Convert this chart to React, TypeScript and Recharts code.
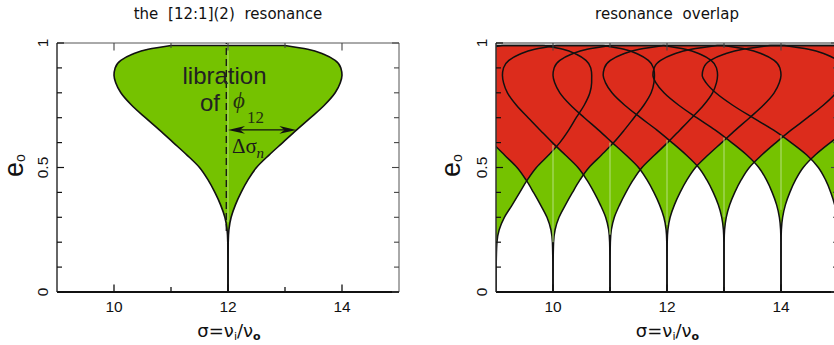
import React from "react";
import { ComposedChart, Area, Line, XAxis, YAxis, ReferenceLine } from "recharts";

// Eccentricity levels at which the libration-zone half-widths are sampled
const E_LEVELS = [0, 0.12, 0.2, 0.25, 0.3, 0.35, 0.4, 0.45, 0.5, 0.55, 0.6, 0.65, 0.7, 0.75, 0.8, 0.84, 0.87, 0.9, 0.93, 0.955, 0.975, 0.99];

// Half-width Δσ_n of the [n:1](2) libration zone at each level of E_LEVELS
const HALF_WIDTH_9 = [0, 0.0046, 0.0168, 0.056, 0.147, 0.285, 0.417, 0.55, 0.709, 0.924, 1.12, 1.275, 1.407, 1.547, 1.647, 1.678, 1.679, 1.662, 1.578, 1.411, 1.175, 0.84];
const HALF_WIDTH_10 = [0, 0.0028, 0.0104, 0.037, 0.106, 0.219, 0.342, 0.473, 0.631, 0.851, 1.064, 1.249, 1.421, 1.593, 1.722, 1.77, 1.78, 1.762, 1.673, 1.495, 1.246, 0.89];
const HALF_WIDTH_11 = [0, 0.0017, 0.0065, 0.024, 0.076, 0.169, 0.28, 0.407, 0.562, 0.783, 1.01, 1.224, 1.436, 1.641, 1.799, 1.867, 1.887, 1.868, 1.774, 1.585, 1.321, 0.943];
const HALF_WIDTH_12 = [0, 0.001, 0.004, 0.016, 0.055, 0.13, 0.23, 0.35, 0.5, 0.72, 0.96, 1.2, 1.45, 1.69, 1.88, 1.97, 2.0, 1.98, 1.88, 1.68, 1.4, 1.0];
const HALF_WIDTH_13 = [0, 0.0006, 0.0025, 0.0106, 0.04, 0.1, 0.189, 0.301, 0.445, 0.662, 0.912, 1.176, 1.465, 1.741, 1.965, 2.078, 2.12, 2.099, 1.993, 1.781, 1.484, 1.06];
const HALF_WIDTH_14 = [0, 0.0004, 0.0015, 0.007, 0.0285, 0.077, 0.155, 0.255, 0.39, 0.6, 0.866, 1.152, 1.479, 1.793, 2.053, 2.193, 2.247, 2.225, 2.112, 1.888, 1.573, 1.124];
const HALF_WIDTH_15 = [0, 0.0002, 0.001, 0.0046, 0.0205, 0.059, 0.127, 0.218, 0.345, 0.548, 0.823, 1.129, 1.494, 1.847, 2.145, 2.313, 2.382, 2.358, 2.239, 2.001, 1.667, 1.191];

const SINGLE_ORDER = 12;
const OVERLAP_ORDERS = [9, 10, 11, 12, 13, 14, 15];
const OVERLAP_WIDTHS = [HALF_WIDTH_9, HALF_WIDTH_10, HALF_WIDTH_11, HALF_WIDTH_12, HALF_WIDTH_13, HALF_WIDTH_14, HALF_WIDTH_15];

// Δσ_n arrow: eccentricity level and the E_LEVELS index it uses
const ARROW_E = 0.651;
const ARROW_LEVEL_INDEX = 11;

// light centre seams inside the single-resonance zones
const SEAM_ORDERS = [10, 11, 12, 13, 14];
const SEAM_FROM = [0.2, 0.23, 0.27, 0.3, 0.33];
const SEAM_TO = [0.59, 0.6, 0.61, 0.62, 0.63];

const X_DOMAIN = [9, 15];
const X_TICKS = [10, 11, 12, 13, 14];
const X_LABELED = [10, 12, 14];
const Y_TICKS = [0, 0.1, 0.2, 0.3, 0.4, 0.5, 0.6, 0.7, 0.8, 0.9, 1];
const Y_LABELED = [0, 0.5, 1];

const GREEN = "#75c200";
const INK = "#111";
const SEAM = "#b6e07e";

const PLOT_W = 342;
const PLOT_H = 249;
const SANS = "'Liberation Sans', Arial, sans-serif";
const SERIF = "'Liberation Serif', 'DejaVu Serif', serif";

function zoneRows(order: number, widths: number[]) {
  return E_LEVELS.map((e, i) => ({ e, band: [order - widths[i], order + widths[i]] }));
}

function capRows(order: number, widths: number[]) {
  const last = E_LEVELS.length - 1;
  return [
    { e: E_LEVELS[last], s: order - widths[last] },
    { e: E_LEVELS[last], s: order + widths[last] },
  ];
}

function XTick(props: any) {
  const { x, y, payload } = props;
  const v = payload.value;
  const major = X_LABELED.includes(v);
  const len = major ? 7.5 : 5;
  return (
    <g>
      <line x1={x} y1={y} x2={x} y2={y - len} stroke={INK} strokeWidth={1.3} />
      <line x1={x} y1={y - PLOT_H} x2={x} y2={y - PLOT_H + len} stroke="#444" strokeWidth={1.1} />
      {major && (
        <text x={x} y={y + 19.7} textAnchor="middle" fontSize={15.5} fontFamily={SANS} fill={INK}>
          {v}
        </text>
      )}
    </g>
  );
}

function YTick(props: any) {
  const { x, y, payload } = props;
  const v = payload.value;
  const major = Y_LABELED.includes(v);
  const len = major ? 7 : 5;
  const lx = x - 14.5;
  return (
    <g>
      <line x1={x} y1={y} x2={x + len} y2={y} stroke={INK} strokeWidth={1.2} />
      <line x1={x + PLOT_W} y1={y} x2={x + PLOT_W - len} y2={y} stroke="#444" strokeWidth={1.1} />
      {major && (
        <text
          x={lx}
          y={y}
          transform={`rotate(-90 ${lx} ${y})`}
          textAnchor="middle"
          dominantBaseline="central"
          fontSize={15.5}
          fontFamily={SANS}
          fill={INK}
        >
          {v}
        </text>
      )}
    </g>
  );
}

function ArrowShape(props: any) {
  const { x1, y1, x2 } = props;
  const y = y1;
  const head = 17;
  const wing = 3.8;
  const notch = 12;
  return (
    <g>
      <line x1={x1 + notch} y1={y} x2={x2 - notch} y2={y} stroke={INK} strokeWidth={1.4} />
      <polygon points={`${x1},${y} ${x1 + head},${y - wing} ${x1 + notch},${y} ${x1 + head},${y + wing}`} fill={INK} />
      <polygon points={`${x2},${y} ${x2 - head},${y - wing} ${x2 - notch},${y} ${x2 - head},${y + wing}`} fill={INK} />
    </g>
  );
}

function axes(visible: boolean, yWidth: number) {
  return [
    <XAxis
      key="x"
      type="number"
      domain={X_DOMAIN}
      ticks={X_TICKS}
      interval={0}
      allowDataOverflow
      height={53}
      tickSize={0}
      tickMargin={0}
      tickLine={false}
      axisLine={visible ? { stroke: INK, strokeWidth: 1.8 } : false}
      tick={visible ? XTick : false}
    />,
    <YAxis
      key="y"
      type="number"
      dataKey="e"
      domain={[0, 1]}
      ticks={Y_TICKS}
      interval={0}
      reversed
      allowDataOverflow
      width={yWidth}
      tickSize={0}
      tickMargin={0}
      tickLine={false}
      axisLine={visible ? { stroke: "#333", strokeWidth: 1.5 } : false}
      tick={visible ? YTick : false}
    />,
  ];
}

function SingleResonance() {
  const arrowHalf = HALF_WIDTH_12[ARROW_LEVEL_INDEX];
  return (
    <ComposedChart layout="vertical" width={420} height={345} margin={{ top: 43, right: 21, bottom: 0, left: 0 }}>
      {axes(true, 57)}
      <ReferenceLine y={1} stroke="#555" strokeWidth={1} />
      <ReferenceLine x={15} stroke="#555" strokeWidth={1} />
      <Area
        data={zoneRows(SINGLE_ORDER, HALF_WIDTH_12)}
        dataKey="band"
        type="monotone"
        fill={GREEN}
        fillOpacity={1}
        stroke={INK}
        strokeWidth={1.6}
        dot={false}
        activeDot={false}
        isAnimationActive={false}
      />
      <Line
        data={capRows(SINGLE_ORDER, HALF_WIDTH_12)}
        dataKey="s"
        stroke={INK}
        strokeWidth={1.6}
        dot={false}
        activeDot={false}
        isAnimationActive={false}
      />
      <ReferenceLine segment={[{ x: SINGLE_ORDER, y: 0.28 }, { x: SINGLE_ORDER, y: 0.985 }]} stroke={SEAM} strokeWidth={1} />
      <ReferenceLine
        segment={[{ x: SINGLE_ORDER - 0.03, y: 0.245 }, { x: SINGLE_ORDER - 0.03, y: 1 }]}
        stroke={INK}
        strokeWidth={1.3}
        strokeDasharray="7 4"
      />
      <ReferenceLine
        segment={[{ x: SINGLE_ORDER, y: ARROW_E }, { x: SINGLE_ORDER + arrowHalf, y: ARROW_E }]}
        shape={ArrowShape}
      />
    </ComposedChart>
  );
}

function OverlapFill() {
  return (
    <ComposedChart layout="vertical" width={420} height={345} margin={{ top: 43, right: 2, bottom: 0, left: 0 }}>
      {axes(false, 76)}
      {OVERLAP_ORDERS.map((n, i) => (
        <Area
          key={n}
          data={zoneRows(n, OVERLAP_WIDTHS[i])}
          dataKey="band"
          type="monotone"
          fill="#000"
          fillOpacity={0.3}
          stroke="none"
          dot={false}
          activeDot={false}
          isAnimationActive={false}
        />
      ))}
    </ComposedChart>
  );
}

function OverlapOutline() {
  return (
    <ComposedChart layout="vertical" width={420} height={345} margin={{ top: 43, right: 2, bottom: 0, left: 0 }}>
      {axes(true, 76)}
      <ReferenceLine y={1} stroke="#333" strokeWidth={1.2} />
      {SEAM_ORDERS.map((n, i) => (
        <ReferenceLine key={`seam-${n}`} segment={[{ x: n, y: SEAM_FROM[i] }, { x: n, y: SEAM_TO[i] }]} stroke={SEAM} strokeWidth={1} />
      ))}
      {OVERLAP_ORDERS.map((n, i) => (
        <Area
          key={`zone-${n}`}
          data={zoneRows(n, OVERLAP_WIDTHS[i])}
          dataKey="band"
          type="monotone"
          fill="none"
          stroke={INK}
          strokeWidth={1.5}
          dot={false}
          activeDot={false}
          isAnimationActive={false}
        />
      ))}
      {OVERLAP_ORDERS.map((n, i) => (
        <Line
          key={`cap-${n}`}
          data={capRows(n, OVERLAP_WIDTHS[i])}
          dataKey="s"
          stroke={INK}
          strokeWidth={1.5}
          dot={false}
          activeDot={false}
          isAnimationActive={false}
        />
      ))}
    </ComposedChart>
  );
}

function EccLabel({ x }: { x: number }) {
  return (
    <text transform={`translate(${x} 177) rotate(-90)`} fontFamily={SANS} fill={INK}>
      <tspan fontSize={27}>e</tspan>
      <tspan fontSize={14} dy={2}>o</tspan>
    </text>
  );
}

function SigmaLabel({ cx }: { cx: number }) {
  return (
    <text x={cx} y={337} textAnchor="middle" fontFamily="'DejaVu Sans', sans-serif" fontSize={18} fill={INK}>
      σ=ν
      <tspan fontSize={11} dy={3}>i</tspan>
      <tspan dy={-3}>/ν</tspan>
      <tspan fontSize={11} dy={3} fontWeight="bold">o</tspan>
    </text>
  );
}

export default function App() {
  return (
    <div style={{ position: "fixed", left: 0, top: 0, width: 834, height: 345, overflow: "hidden", background: "#fff" }}>
      <svg width={0} height={0} style={{ position: "absolute" }}>
        <defs>
          {/* colour each pixel by how many libration zones cover it: one -> green, two or more -> red */}
          <filter id="overlap-count" colorInterpolationFilters="sRGB">
            <feColorMatrix type="matrix" values="0 0 0 1 0  0 0 0 1 0  0 0 0 1 0  0 0 0 1 0" />
            <feComponentTransfer>
              <feFuncR type="discrete" tableValues="0 0.459 0.863 0.863 0.863" />
              <feFuncG type="discrete" tableValues="0 0.761 0.173 0.173 0.173" />
              <feFuncB type="discrete" tableValues="0 0 0.11 0.11 0.11" />
              <feFuncA type="discrete" tableValues="0 1 1 1 1" />
            </feComponentTransfer>
          </filter>
        </defs>
      </svg>

      <div style={{ position: "absolute", left: 0, top: 0 }}>
        <SingleResonance />
      </div>
      <div style={{ position: "absolute", left: 420, top: 0, filter: "url(#overlap-count)" }}>
        <OverlapFill />
      </div>
      <div style={{ position: "absolute", left: 420, top: 0 }}>
        <OverlapOutline />
      </div>

      <svg width={834} height={345} style={{ position: "absolute", left: 0, top: 0, pointerEvents: "none" }}>
        <text x={228} y={18.5} textAnchor="middle" fontFamily="'DejaVu Sans', sans-serif" fontSize={15} fill={INK} style={{ wordSpacing: 5 }}>
          the [12:1](2) resonance
        </text>
        <text x={667} y={18.5} textAnchor="middle" fontFamily="'DejaVu Sans', sans-serif" fontSize={15} fill={INK} style={{ wordSpacing: 5 }}>
          resonance overlap
        </text>
        <EccLabel x={23} />
        <EccLabel x={459.5} />
        <SigmaLabel cx={229} />
        <SigmaLabel cx={667.5} />

        <text x={224.5} y={84} textAnchor="middle" fontFamily={SANS} fontSize={24} fill="#222">
          libration
        </text>
        <text x={200} y={111} fontFamily={SANS} fontSize={24} fill="#222">
          of
        </text>
        <text x={233} y={108} fontFamily={SERIF} fontStyle="italic" fontSize={23} fill="#243010">
          ϕ
        </text>
        <text x={247} y={123} fontFamily={SERIF} fontSize={17} fill="#243010">
          12
        </text>
        <text x={232} y={153} fontFamily={SERIF} fontSize={21} fill="#1a1a1a">
          Δσ
        </text>
        <text x={256.5} y={158} fontFamily={SERIF} fontStyle="italic" fontSize={15} fill="#1a1a1a">
          n
        </text>
      </svg>
    </div>
  );
}
